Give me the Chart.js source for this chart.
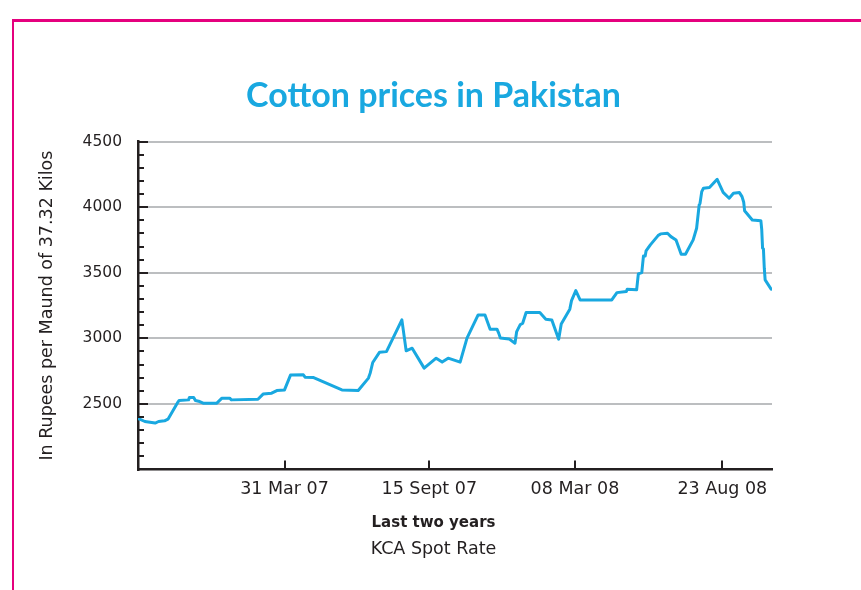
<!DOCTYPE html>
<html>
<head>
<meta charset="utf-8">
<script src="https://cdn.jsdelivr.net/npm/chart.js@4.4.1/dist/chart.umd.min.js"></script>
<style>
html,body{margin:0;padding:0;background:#fff;}
#wrap{position:relative;width:861px;height:590px;overflow:hidden;}
#frame{position:absolute;left:12px;top:19px;width:900px;height:700px;border-top:3px solid #e5007e;border-left:2px solid #e5007e;pointer-events:none;}
canvas{display:block;}
</style>
</head>
<body>
<div id="wrap"><canvas id="c" width="861" height="590"></canvas><div id="frame"></div></div>
<script>
// ---- data (x = day within the two-year window, y = Rs per maund) ----
const days = [0,2,8,20,24,31,35,47,48,59,60,65,67,72,76,92,98,107,109,140,146,156,162,171,178,193,195,205,238,257,269,271,274,282,290,308,313,320,334,348,355,362,376,384,397,405,411,419,421,423,433,440,442,446,449,453,469,476,483,491,494,504,506,511,516,553,559,570,571,582,584,588,589,590,592,593,598,607,610,618,622,628,634,639,648,652,655,656,658,660,667,676,683,690,695,702,705,707,708,717,727,728,729,730,731,732,739];
const prices = [2388,2384,2366,2354,2366,2371,2384,2518,2526,2531,2549,2549,2526,2518,2506,2506,2544,2544,2531,2536,2575,2582,2602,2607,2720,2722,2704,2701,2607,2602,2697,2735,2816,2895,2899,3141,2905,2925,2773,2849,2819,2849,2819,3002,3179,3179,3070,3070,3040,3002,2996,2963,3052,3103,3116,3197,3197,3146,3141,2994,3110,3223,3288,3364,3293,3293,3349,3357,3375,3370,3492,3502,3566,3629,3629,3667,3713,3784,3797,3802,3776,3751,3642,3642,3751,3840,4017,4030,4119,4145,4150,4213,4114,4069,4107,4112,4081,4038,3974,3903,3898,3832,3688,3682,3535,3446,3375];
const tickDays = [171, 340, 510, 682];
const tickLabels = ['31 Mar 07', '15 Sept 07', '08 Mar 08', '23 Aug 08'];
const xMin = 0, xMax = 740;
const yMin = 2000, yMax = 4500, yMajor = 500, yMinor = 100;
const titleText = 'Cotton prices in Pakistan';
const yTitleText = 'In Rupees per Maund of 37.32 Kilos';
const xTitleText = 'Last two years';
const sourceText = 'KCA Spot Rate';

const BLUE = '#19a8e0';
const INK = '#231f20';
const GRID = '#bcbec0';

const innerTicks = {
  id: 'innerTicks',
  afterDatasetsDraw(chart) {
    const {ctx, chartArea: a, scales: {x, y}} = chart;
    ctx.save();
    ctx.strokeStyle = INK;
    ctx.lineWidth = 2;
    ctx.beginPath();
    for (let v = yMin + yMinor; v <= yMax; v += yMinor) {
      const py = Math.round(y.getPixelForValue(v));
      const len = (v % yMajor === 0) ? 10 : 6;
      ctx.moveTo(a.left, py); ctx.lineTo(a.left + len, py);
    }
    tickDays.forEach(d => {
      const px = Math.round(x.getPixelForValue(d));
      ctx.moveTo(px, a.bottom); ctx.lineTo(px, a.bottom - 9);
    });
    ctx.stroke();
    ctx.restore();
  },
  afterDraw(chart) {
    const {ctx, chartArea: a} = chart;
    const sb = chart.subtitleBlock;
    const cx = sb ? (sb.left + sb.right) / 2 : chart.width / 2;
    ctx.save();
    ctx.fillStyle = INK;
    ctx.font = 'bold 15px "DejaVu Sans"';
    ctx.textAlign = 'center';
    ctx.textBaseline = 'middle';
    ctx.fillText(xTitleText, cx + 3, a.bottom + 54);
    ctx.restore();
  }
};

new Chart(document.getElementById('c'), {
  type: 'line',
  data: {
    datasets: [{
      data: days.map((d, i) => ({x: d, y: prices[i]})),
      borderColor: BLUE,
      borderWidth: 3,
      pointRadius: 0,
      tension: 0,
      fill: false,
      borderJoinStyle: 'round',
      borderCapStyle: 'round'
    }]
  },
  options: {
    responsive: false,
    animation: false,
    devicePixelRatio: 1,
    layout: {padding: {left: 6, right: 0, top: 0, bottom: 0}},
    plugins: {
      legend: {display: false},
      tooltip: {enabled: false},
      title: {
        display: true, text: titleText, color: BLUE,
        font: {family: 'Lato', size: 34, weight: 'bold'},
        padding: {top: 75.6, bottom: 25.3}
      },
      subtitle: {
        display: true, position: 'bottom', text: sourceText, color: INK,
        font: {family: 'DejaVu Sans', size: 17.5},
        padding: {top: 0, bottom: 30.5}
      }
    },
    scales: {
      x: {
        type: 'linear', min: xMin, max: xMax, position: 'bottom',
        afterBuildTicks: s => { s.ticks = tickDays.map(v => ({value: v})); },
        afterFit: s => { s.height = 69; },
        ticks: {
          autoSkip: false, maxRotation: 0, padding: 9, color: INK,
          font: {family: 'DejaVu Sans', size: 17.5},
          callback: v => { const i = tickDays.indexOf(v); return i >= 0 ? tickLabels[i] : ''; }
        },
        grid: {display: false, drawTicks: false},
        border: {display: true, color: INK, width: 2.5}
      },
      y: {
        type: 'linear', min: yMin, max: yMax, position: 'left',
        afterFit: s => { s.width = 132; },
        ticks: {
          stepSize: yMinor, autoSkip: false, padding: 16, color: INK,
          font: {family: 'DejaVu Sans', size: 15.5},
          callback: v => (v % yMajor === 0 && v > yMin) ? String(v) : ''
        },
        grid: {
          drawTicks: false, lineWidth: 2,
          color: c => (c.tick && c.tick.value % yMajor === 0 && c.tick.value > yMin) ? GRID : 'rgba(0,0,0,0)'
        },
        border: {display: true, color: INK, width: 2.5},
        title: {
          display: true, text: yTitleText, color: INK,
          font: {family: 'DejaVu Sans', size: 17.5},
          padding: {top: 30.5, bottom: 0}
        }
      },
      yRight: {
        type: 'linear', position: 'right', display: true,
        afterFit: s => { s.width = 89; },
        ticks: {display: false},
        grid: {display: false, drawTicks: false},
        border: {display: false}
      }
    }
  },
  plugins: [innerTicks]
});
</script>
</body>
</html>
